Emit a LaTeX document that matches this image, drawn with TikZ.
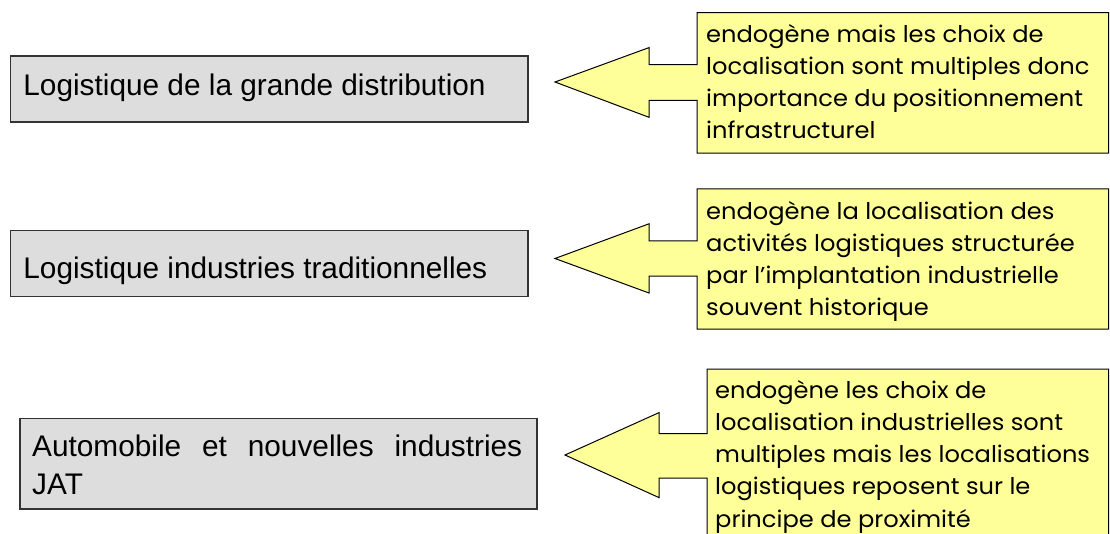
\documentclass[tikz,border=0pt]{standalone}
\usepackage{fontspec}
\newfontfamily\boxfont{Liberation Sans}
\newfontfamily\callfont[FakeStretch=1.05]{Poppins}
\definecolor{boxgray}{HTML}{DDDDDD}
\definecolor{callyellow}{HTML}{FFFF99}
\definecolor{boxline}{HTML}{333333}
\begin{document}
\begin{tikzpicture}[x=1pt,y=-1pt,
  graybox/.style={draw=boxline, line width=1.5pt, fill=boxgray, inner sep=0pt, anchor=north west},
  boxtext/.style={font=\boxfont\fontsize{29.8}{38}\selectfont, inner sep=0pt, anchor=base west, align=left},
  callout/.style={draw=black, line width=1pt, fill=callyellow, line join=miter},
  calltext/.style={font=\callfont\fontsize{23}{31.7}\selectfont, inner sep=0pt, anchor=base west, align=left}]
\useasboundingbox[fill=white] (0,0) rectangle (1110,533);
\clip (0,0) rectangle (1110,533);

% left boxes
\node[graybox, minimum width=517.4pt, minimum height=66pt] (b1) at (9.6,55) {};
\node[boxtext] (t1) at (23.2,95) {Logistique de la grande distribution};
\node[graybox, minimum width=517.4pt, minimum height=66pt] (b2) at (9.6,229.6) {};
\node[boxtext] (t2) at (23.2,278.6) {Logistique industries traditionnelles};
\node[graybox, minimum width=517pt, minimum height=90.5pt] (b3) at (19,417.5) {};
\node[boxtext] (t3) at (32,494) {\makebox[490pt][l]{Automobile\hfill et\hfill nouvelles\hfill industries}\\JAT};

% callout 1
\draw[callout] (697,12.5) -- (1108.5,12.5) -- (1108.5,153) -- (697,153) -- (697,100.3)
  -- (649,100.3) -- (649,117.3) -- (555,82) -- (649,47.6) -- (649,64.6) -- (697,64.6) -- cycle;
\node[calltext] (c1) at (706,138) {endogène mais les choix de\\localisation sont multiples donc\\importance du positionnement\\infrastructurel};

% callout 2
\draw[callout] (697,188.8) -- (1108.5,188.8) -- (1108.5,329) -- (697,329) -- (697,276)
  -- (649,276) -- (649,293) -- (555,258.5) -- (649,223.8) -- (649,240.8) -- (697,240.8) -- cycle;
\node[calltext] (c2) at (706,315) {endogène la localisation des\\activités logistiques structurée\\par l’implantation industrielle\\souvent historique};

% callout 3
\draw[callout] (707,369) -- (1108.5,369) -- (1108.5,540) -- (707,540) -- (707,478)
  -- (659,478) -- (659,497.6) -- (565,455) -- (659,412.6) -- (659,433.7) -- (707,433.7) -- cycle;
\node[calltext, font=\callfont\fontsize{23}{32.2}\selectfont] (c3) at (715,527) {endogène les choix de\\localisation industrielles sont\\multiples mais les localisations\\logistiques reposent sur le\\principe de proximité};
\end{tikzpicture}
\end{document}
